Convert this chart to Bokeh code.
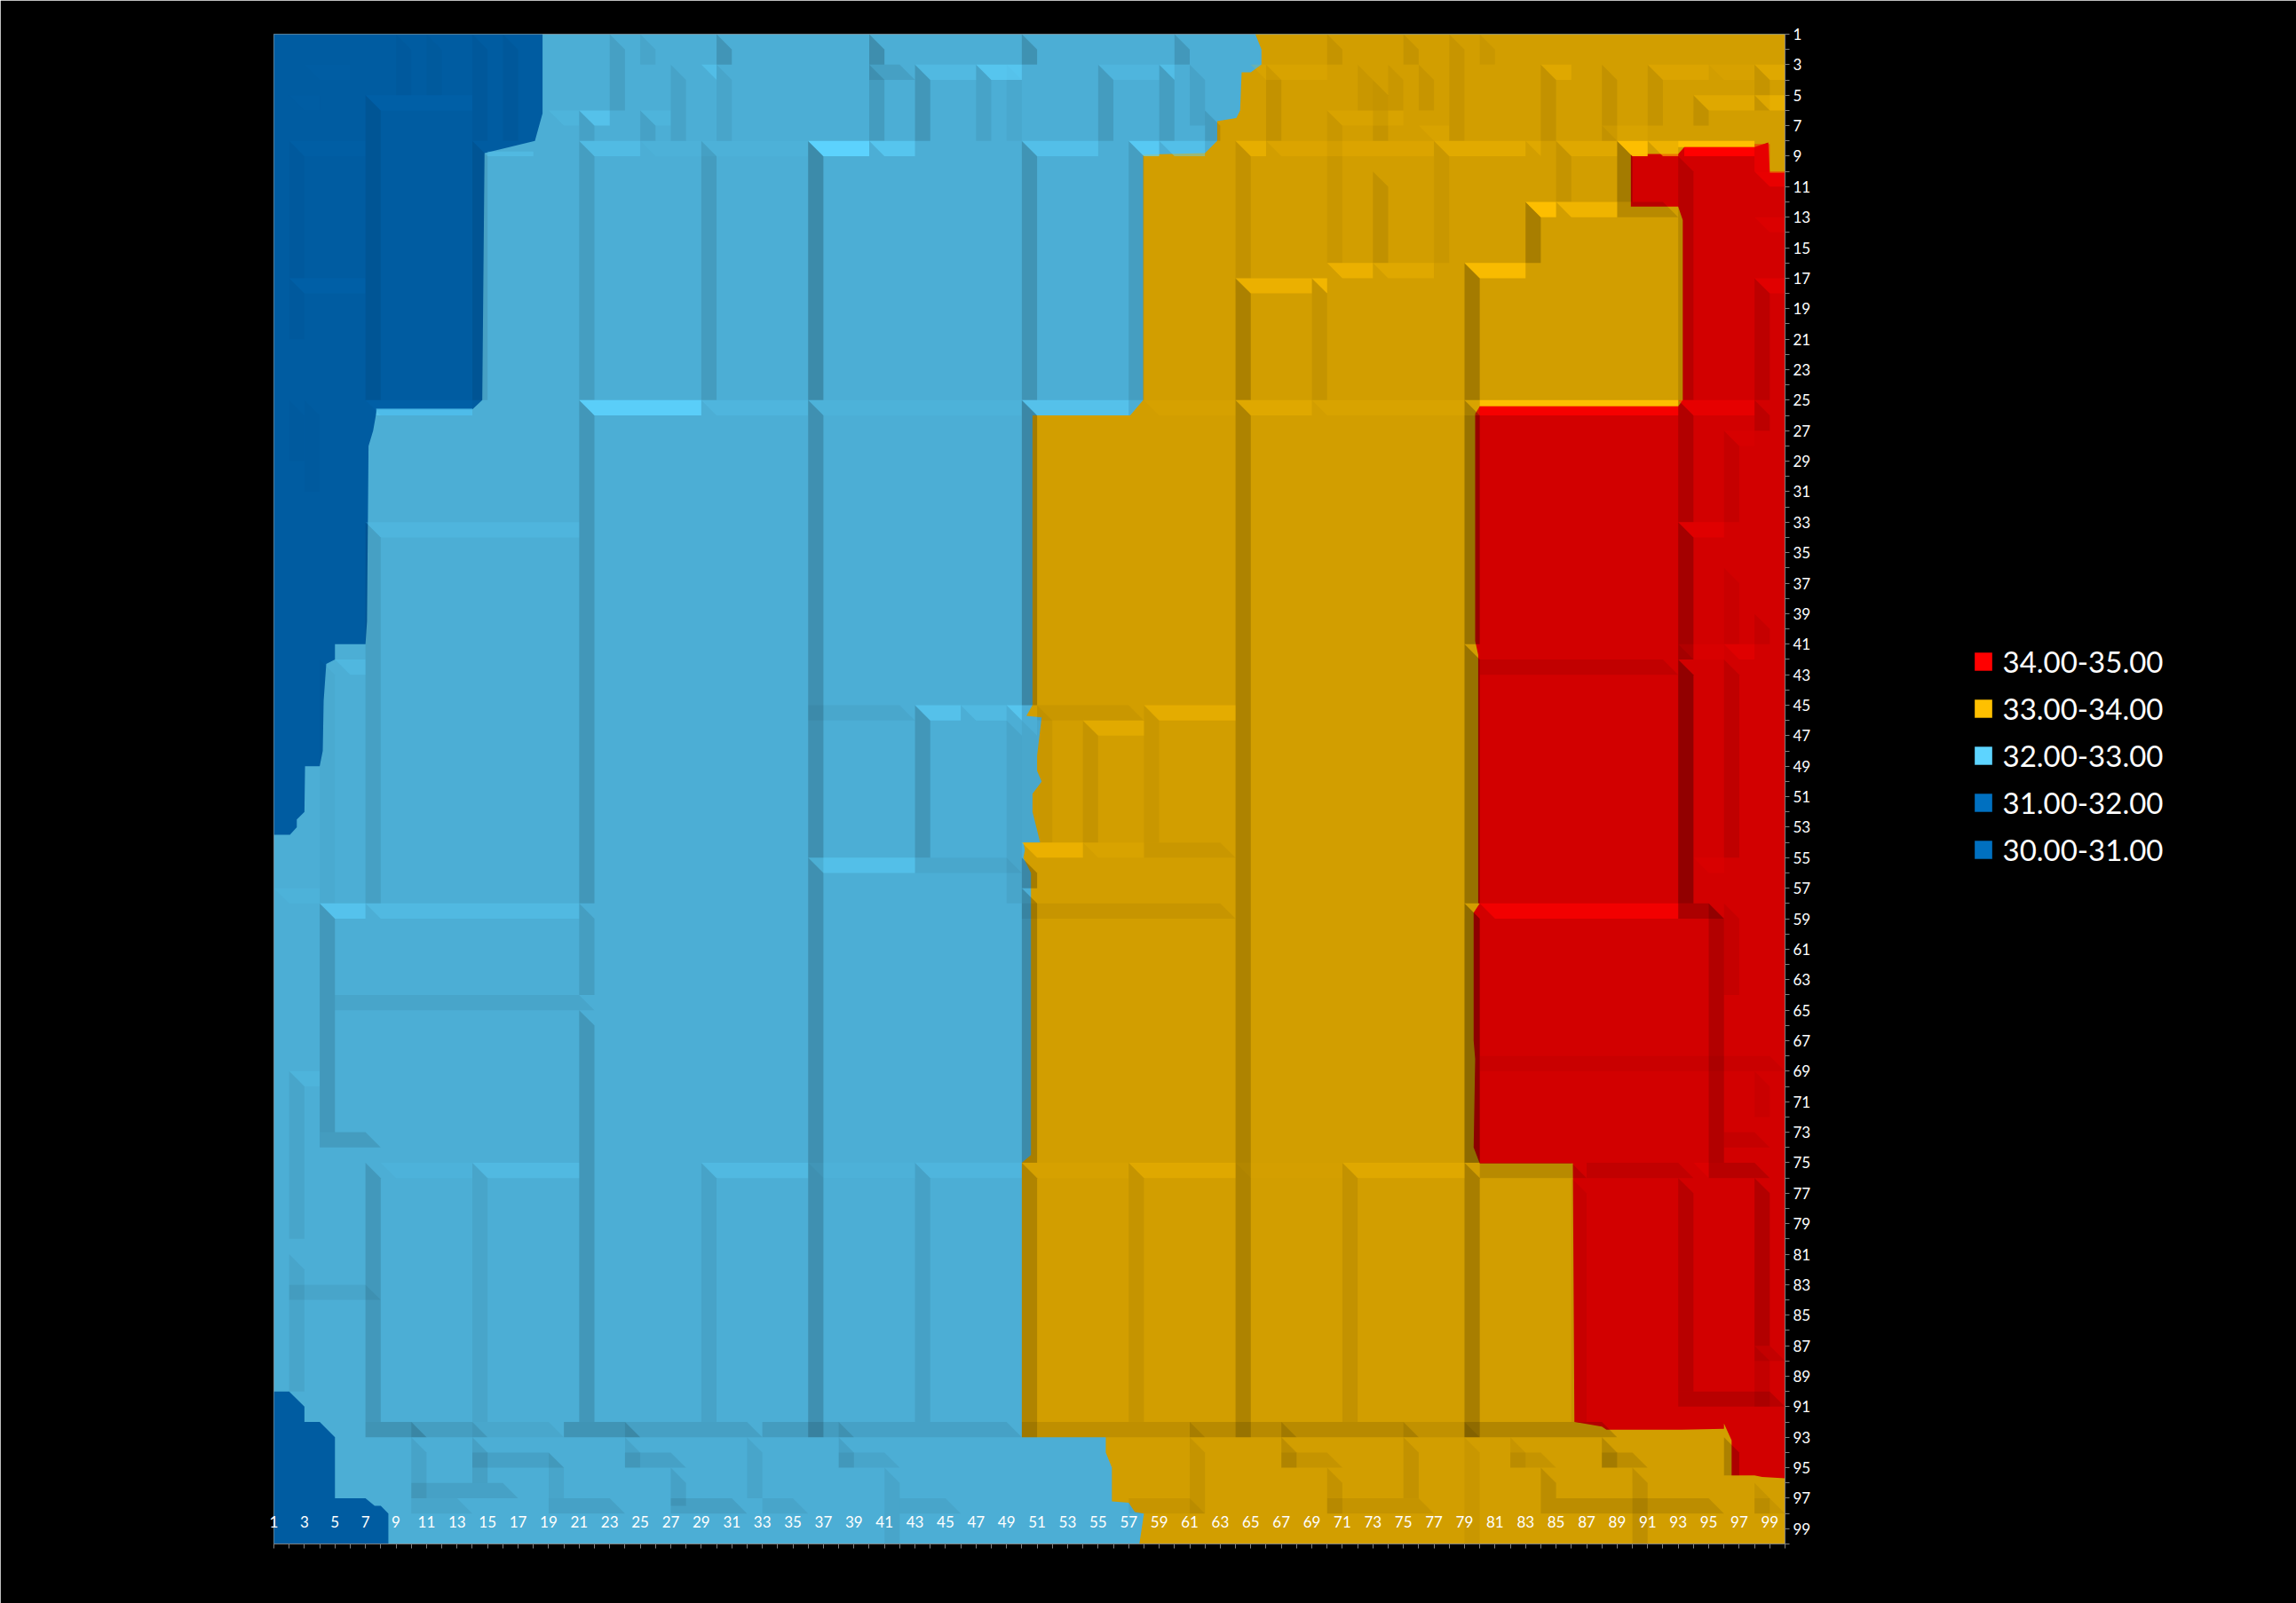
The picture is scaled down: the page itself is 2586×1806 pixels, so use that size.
from bokeh.plotting import figure
from bokeh.models import (Range1d, LinearAxis, FixedTicker, ColumnDataSource, Legend, LegendItem)
from bokeh.embed import file_html
from bokeh.resources import INLINE

# ---- categories and labels -------------------------------------------------
band_labels = ["34.00-35.00", "33.00-34.00", "32.00-33.00", "31.00-32.00", "30.00-31.00"]
band_colors = ["#FF0000", "#FFC000", "#5DD4FF", "#0070C0", "#0070C0"]
x_ticks = list(range(1, 101))
y_ticks = list(range(1, 101))
tick_labels = {i: (str(i) if i % 2 == 1 else "") for i in range(1, 101)}

sky_base = "#4CAED5"
navy_base = "#005CA1"
gold_base = "#D29E00"
red_base = "#D20000"

# ---- contour outlines (column, row) ----------------------------------------
navy_top_col = [1, 18.6, 18.6, 18.1, 14.8, 14.65, 14.0, 7.75, 7.5, 7.2, 7.1, 7.0, 5.0, 5.0, 4.43, 4.26,
                4.2, 4.0, 3.04, 3.0, 2.5, 2.5, 2.05, 1]
navy_top_row = [1, 1, 6.2, 8, 8.8, 25, 25.6, 25.6, 27, 28, 39.5, 41, 41, 42, 42.3, 44.7,
                48, 49, 49, 52, 52.5, 53, 53.5, 53.5]
navy_low_col = [1, 2, 3, 3, 4, 5, 5, 7, 7.6, 8, 8.5, 8.5, 1]
navy_low_row = [90, 90, 91, 92, 92, 93, 97, 97, 97.5, 97.5, 98, 100, 100]
gold_col = [65.3, 65.7, 65.7, 65.0, 64.4, 64.3, 64.05, 62.8, 62.8, 62.0, 57.95, 57.95, 57.1, 50.7, 50.7,
            50.3, 51.3, 51.0, 51.0, 51.3, 50.7, 50.7, 51.2, 50.1, 50.2, 50.1, 50.6, 50.6, 50.0, 50.0, 55.0,
            55.5, 55.5, 55.9, 55.9, 57.0, 57.4, 58.0, 57.7, 100, 100]
gold_row = [1, 2, 3, 3.5, 3.5, 6, 6.5, 6.7, 8, 8.8, 8.9, 25, 26, 26, 45,
            45.7, 45.8, 48.3, 49.3, 50, 50.8, 52, 54, 54, 54.5, 55, 56, 74.5, 75, 93, 93,
            93, 94, 95, 97.2, 97.3, 97.9, 98, 100, 100, 1]
red_col = [89.9, 91.1, 93.0, 93.4, 98, 98.9, 99, 100, 100, 98.5, 98, 96.5, 96.5, 96, 96, 93.2, 88.3, 88, 86.2,
           86.1, 80, 79.6, 79.7, 79.6, 79.6, 80, 79.9, 79.9, 79.7, 79.7, 80, 93, 93.3, 93.3, 93, 89.9]
red_row = [8.9, 8.85, 8.85, 8.4, 8.4, 8.1, 10.1, 10.1, 95.7, 95.6, 95.5, 95.5, 93.2, 92.1, 92.45, 92.5, 92.5, 92.3, 92,
           75.05, 75.05, 74, 68.2, 67, 58.6, 58, 58, 41.7, 40.8, 25.9, 25.4, 25.4, 25, 13.2, 12.3, 12.3]

# ---- bevel strips: dark vertical (col, row from, row to, strength) ---------
dark_v = [
    (7, 5, 25, .07), (14, 8, 25, .08), (2, 8, 17, .025), (2, 17, 21, .025), (14, 1, 8, .035), (16, 1, 8, .035),
    (3, 25, 31, .015), (2, 25, 29, .015), (9, 1, 5, .025), (11, 1, 5, .02),
    (23, 1, 6, .08), (25, 1, 3, .05), (27, 3, 8, .06), (30, 1, 3, .14), (30, 3, 8, .05), (40, 1, 3, .18),
    (40, 3, 8, .1), (43, 3, 8, .13), (21, 6, 8, .07), (25, 6, 8, .07),
    (21, 8, 25, .09), (21, 25, 58, .13), (21, 58, 64, .09), (21, 65, 92, .13), (29, 8, 25, .1),
    (36, 8, 25, .2), (36, 25, 93, .17), (47, 3, 8, .06), (49, 3, 8, .03), (50, 1, 3, .16), (50, 8, 25, .15),
    (55, 3, 8, .1), (59, 3, 8, .09), (60, 1, 3, .12), (61, 3, 7, .06), (62, 6, 8, .1), (57, 8, 25, .09),
    (50, 25, 45, .22), (43, 45, 55, .13), (49, 46, 58, .05), (50, 46, 54, .04), (50, 55, 57, .22),
    (50, 57, 75, .2), (50, 75, 93, .16), (51, 45, 54, .04), (54, 46, 54, .06), (58, 45, 54, .04),
    (7, 33, 58, .08), (4, 42, 58, .02), (4, 58, 73, .12), (7, 75, 92, .12), (14, 75, 92, .05),
    (29, 75, 92, .06), (43, 75, 92, .07), (57, 75, 92, .06), (71, 75, 92, .07),
    (2, 69, 80, .05), (2, 81, 90, .05),
    (64, 8, 17, .07), (64, 17, 25, .18), (64, 25, 93, .17), (69, 17, 25, .06), (70, 6, 16, .04), (73, 10, 16, .08),
    (79, 16, 25, .22), (79, 25, 41, .28), (79, 41, 58, .28), (79, 58, 75, .33), (79, 75, 93, .2),
    (83, 12, 16, .2), (85, 8, 12, .06), (89, 8, 12, .22), (77, 8, 16, .04),
    (70, 1, 3, .06), (75, 1, 3, .06), (78, 1, 8, .05), (80, 1, 3, .04), (84, 3, 8, .07), (88, 3, 8, .07),
    (91, 3, 7, .06), (98, 3, 6, .06), (94, 5, 7, .08), (66, 3, 8, .07), (73, 4, 8, .06), (74, 3, 6, .04),
    (76, 3, 6, .05), (72, 3, 6, .04),
    (93, 9, 25, .12), (93, 25, 33, .15), (93, 33, 42, .22), (93, 42, 58, .3), (96, 27, 33, .06),
    (98, 25, 27, .1), (98, 17, 25, .1), (96, 36, 41, .04), (98, 39, 41, .06), (96, 42, 55, .09),
    (95, 58, 75, .15), (96, 58, 64, .06), (98, 69, 72, .04), (98, 76, 87, .15), (98, 87, 91, .07),
    (86, 76, 92, .05), (93, 76, 90, .12),
    (61, 93, 98, .06), (67, 93, 95, .1), (70, 95, 98, .07), (75, 93, 97, .07), (79, 93, 100, .04),
    (82, 93, 95, .05), (84, 95, 97, .1), (88, 93, 95, .13), (90, 95, 100, .09), (96, 93, 95.5, .18),
    (98, 96, 98, .06), (10, 93, 97, .06), (14, 93, 96, .08), (19, 94, 97, .05), (24, 93, 95, .06),
    (27, 95, 97.5, .07), (32, 93, 97, .05), (38, 93, 95, .07), (41, 95, 100, .05),
]

# ---- bevel strips: dark horizontal (row, col from, col to, strength) -------
dark_h = [
    (3, 40, 43, .08), (12, 89, 93, .12), (42, 80, 93, .08), (45, 36, 43, .04), (45, 51, 58, .04),
    (54, 58, 64, .04), (55, 43, 50, .04), (58, 50, 64, .05), (64, 5, 22, .05), (68, 80, 100, .04),
    (73, 4, 8, .1), (83, 2, 8, .05), (73, 96, 99, .06),
    (58, 93, 96, .18), (75, 80, 87, .12), (75, 87, 94, .08), (75, 95, 99, .12), (87, 98, 100, .07),
    (90, 93, 100, .12),
    (92, 7, 11, .15), (92, 10, 15, .09), (92, 14, 20, .04), (92, 20, 25, .15), (92, 24, 33, .08),
    (92, 33, 39, .1), (92, 38, 50, .07), (92, 50, 62, .09), (92, 61, 68, .12), (92, 67, 76, .12),
    (92, 75, 80, .08), (92, 79, 89, .15),
    (94, 14, 20, .07), (96, 10, 17, .07), (94, 24, 28, .07), (97, 27, 32, .08), (97, 33, 36, .05),
    (94, 38, 42, .05), (97, 42, 46, .05), (97, 10, 14, .05), (97, 19, 24, .07),
    (94, 67, 71, .06), (94, 82, 85, .06), (97, 84, 96, .1), (94, 88, 91, .1), (97, 57, 62, .05),
    (97, 70, 77, .06), (97, 98, 100, .05),
]

# ---- bevel strips: bright horizontal per band (row, col from, col to, strength)
light_navy = [(5, 7, 14, .2), (8, 2, 7, .12), (17, 2, 7, .2), (25, 7, 14, .2), (3, 3, 6, .08), (5, 2, 4, .08)]
light_sky = [
    (3, 29, 30, .4), (3, 43, 47, .3), (3, 47, 50, .6), (3, 55, 59, .2), (3, 59, 60, .4), (6, 21, 23, .5),
    (6, 19, 21, .15), (6, 25, 27, .15), (8, 21, 25, .35), (8, 25, 36, .08), (8, 36, 40, .95), (8, 40, 43, .6),
    (8, 50, 55, .45), (8, 57, 59, .7), (8, 59, 62, .45), (25, 21, 29, .85), (25, 29, 36, .2), (25, 36, 50, .1),
    (25, 50, 57, .5), (33, 7, 21, .2), (42, 5, 7, .25), (45, 43, 46, .5), (45, 46, 49, .3),
    (45, 49, 50, .6), (55, 36, 43, .45), (57, 1, 4, .1), (58, 4, 7, .55), (58, 7, 21, .3), (69, 2, 4, .15),
    (75, 8, 14, .12), (75, 14, 21, .3), (75, 29, 36, .3), (75, 36, 43, .08), (75, 43, 50, .2),
]
light_gold = [
    (3, 65, 70, .15), (3, 84, 86, .3), (3, 91, 95, .2), (3, 95, 98, .12), (3, 98, 100, .3), (5, 94, 98, .3),
    (5, 98, 100, .45), (6, 70, 75, .15), (7, 76, 78, .15), (7, 88, 91, .15), (8, 64, 66, .45), (8, 66, 77, .2),
    (8, 77, 83, .35), (8, 83, 84, .3), (8, 85, 89, .3), (8, 89, 91, .95), (8, 91, 93, .6), (12, 83, 85, .95),
    (12, 85, 89, .65), (16, 70, 73, .55), (16, 73, 77, .3), (16, 79, 83, .85), (17, 64, 69, .55), (17, 69, 70, .7),
    (25, 58, 64, .1), (25, 64, 69, .3), (25, 69, 80, .15), (45, 58, 64, .4), (46, 54, 58, .35), (54, 50, 54, .55),
    (54, 54, 58, .15), (75, 50, 57, .1), (75, 57, 64, .3), (75, 64, 71, .05), (75, 71, 79, .3),
]
light_red = [(10, 98, 100, .5), (13, 98, 100, .2), (17, 98, 100, .35), (25, 93, 98, .45), (27, 96, 98, .12),
             (33, 93, 96, .3), (41, 93, 96, .15), (41, 96, 98, .3), (55, 94, 96, .15), (58, 80, 93, .7),
             (75, 94, 95, .2)]

# ---- thin lips along contour steps (row from, row to, col from, col to, strength)
thin_sky = [(25.55, 26, 7.7, 14, .55), (8.7, 9, 15, 18, .3)]
thin_gold = [(8, 8.4, 93, 98, 1), (25, 25.4, 80, 93, .95)]
thin_red = [(8.4, 9, 93.4, 98, 1), (25.4, 26, 80, 93, .8)]
red_side_col = [98]
red_side_from = [8.2]
red_side_to = [10]
red_side_strength = [.45]


p = figure(width=2586, height=1806, frame_width=1702, frame_height=1701,
           x_range=Range1d(1, 100), y_range=Range1d(100, 1),
           output_backend="svg", toolbar_location=None, x_axis_location=None, y_axis_location=None,
           background_fill_color="#000000", border_fill_color="#000000",
           outline_line_color="#808080", outline_line_width=1,
           min_border_left=308, min_border_right=0, min_border_top=38, min_border_bottom=67)
p.grid.visible = False

p.patch(x=[1, 100, 100, 1], y=[1, 1, 100, 100], fill_color=sky_base, line_color=None)
r_gold = p.patch(x=gold_col, y=gold_row, fill_color=gold_base, line_color=None)
r_red = p.patch(x=red_col, y=red_row, fill_color=red_base, line_color=None)
r_navy = p.patch(x=navy_top_col, y=navy_top_row, fill_color=navy_base, line_color=None)
p.patch(x=navy_low_col, y=navy_low_row, fill_color=navy_base, line_color=None)

xs, ys, cols, alphas = [], [], [], []
def add(x, y, c, a):
    xs.append(x); ys.append(y); cols.append(c); alphas.append(a)

for c, r0, r1, a in dark_v:
    add([c, c + 1, c + 1, c], [r0, r0 + 1, r1, r1], "#000000", a)
for r, x0, x1, a in dark_h:
    add([x0, x1 - 1, x1, x0], [r, r, r + 1, r + 1], "#000000", a)
for strips, colr in ((light_navy, "#0070C0"), (light_sky, "#5DD4FF"), (light_gold, "#FFC000"), (light_red, "#FF0000")):
    for r, x0, x1, a in strips:
        add([x0, x1, x1, x0 + 1], [r, r, r + 1, r + 1], colr, a)
for strips, colr in ((thin_sky, "#5DD4FF"), (thin_gold, "#FFC000"), (thin_red, "#FF0000")):
    for r0, r1, x0, x1, a in strips:
        add([x0, x1, x1, x0], [r0, r0, r1, r1], colr, a)
for c, r0, r1, a in zip(red_side_col, red_side_from, red_side_to, red_side_strength):
    add([c, c + 1, c + 1, c], [r0, r0, r1, r1], "#FF0000", a)

p.patches("x", "y", source=ColumnDataSource(dict(x=xs, y=ys, c=cols, a=alphas)),
          fill_color="c", fill_alpha="a", line_color=None)

xa = LinearAxis(ticker=FixedTicker(ticks=x_ticks), major_label_overrides=tick_labels)
ya = LinearAxis(ticker=FixedTicker(ticks=y_ticks), major_label_overrides=tick_labels)
for ax in (xa, ya):
    ax.axis_line_color = "#808080"
    ax.major_tick_line_color = "#808080"
    ax.major_tick_in = 0
    ax.major_tick_out = 5
    ax.minor_tick_line_color = None
    ax.major_label_text_color = "#FFFFFF"
    ax.major_label_text_font = "Lato"
    ax.major_label_text_font_size = "17px"
xa.major_label_standoff = -37
ya.major_label_standoff = 4
p.add_layout(xa, "below")
p.add_layout(ya, "right")

# legend: one dummy square per band, drawn through the library's own legend
items = []
for lab, colr in zip(band_labels, band_colors):
    r = p.rect(x=[-50], y=[-50], width=1, height=1, fill_color=colr, line_color="#00000055", line_width=1)
    items.append(LegendItem(label=lab, renderers=[r]))
legend = Legend(items=items, location=(-59, 762), background_fill_alpha=0, border_line_color=None,
                label_text_color="#FFFFFF", label_text_font="Lato", label_text_font_size="33px",
                glyph_width=25, glyph_height=26, spacing=13, padding=0, margin=0, label_standoff=10)
p.add_layout(legend, "right")

open("out.html", "w").write(file_html(p, INLINE))
